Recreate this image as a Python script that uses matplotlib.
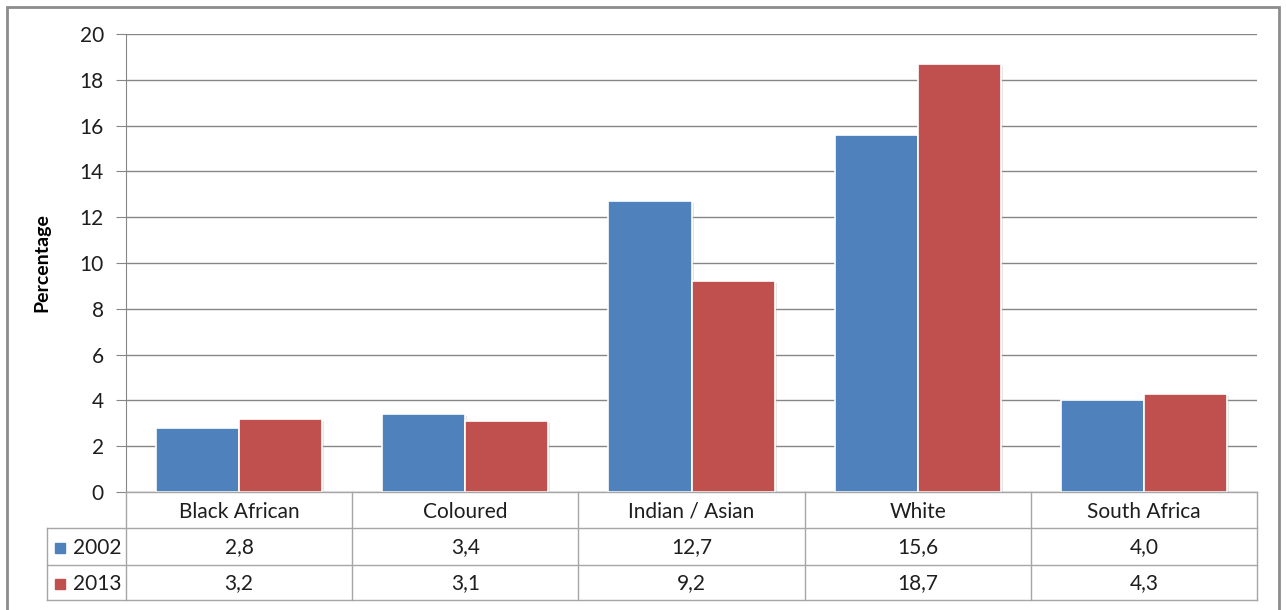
import matplotlib.pyplot as plt
import matplotlib.patheffects as pe
import numpy as np
from matplotlib.transforms import blended_transform_factory
from matplotlib.patches import Rectangle

plt.rcParams['font.family'] = ['Lato', 'DejaVu Sans']

# data
categories = ['Black African', 'Coloured', 'Indian / Asian', 'White', 'South Africa']
years = ['2002', '2013']
values_2002 = [2.8, 3.4, 12.7, 15.6, 4.0]
values_2013 = [3.2, 3.1, 9.2, 18.7, 4.3]
colors = ['#4F81BD', '#C0504D']

W, H = 1286, 610
fig = plt.figure(figsize=(W / 100, H / 100), dpi=100)

def fx(px):
    return px / W

def fy(py):
    # py measured from the top edge
    return 1 - py / H

ax_left, ax_right, ax_top, ax_bottom = 126, 1257, 34, 492
ax = fig.add_axes([fx(ax_left), fy(ax_bottom), fx(ax_right - ax_left), (ax_bottom - ax_top) / H])

grid_col = '#868686'
table_col = '#A6A6A6'
txt_col = '#1E1E1E'
fs = 15

x = np.arange(len(categories))
bw = 0.367
shadow = [pe.SimplePatchShadow(offset=(1.5, -1.5), shadow_rgbFace='#AAAAAA', alpha=0.3), pe.Normal()]
for vals, col, off in [(values_2002, colors[0], -bw / 2), (values_2013, colors[1], bw / 2)]:
    bars = ax.bar(x + off, vals, width=bw, color=col, edgecolor='white', linewidth=1.2, zorder=3)
    for b in bars:
        b.set_path_effects(shadow)

ax.set_xlim(-0.5, len(categories) - 0.5)
ax.set_ylim(0, 20)
ax.set_yticks(np.arange(0, 21, 2))
ax.yaxis.grid(True, color=grid_col, linewidth=1)
ax.set_axisbelow(True)
ax.set_xticks([])
for s in ['top', 'right', 'bottom']:
    ax.spines[s].set_visible(False)
ax.spines['left'].set_color(grid_col)
ax.tick_params(axis='y', length=7, color=grid_col, labelsize=fs, pad=9, labelcolor=txt_col)
ax.set_ylabel('Percentage', fontsize=14, fontweight='bold', labelpad=21, color='black')

# data table below the plot
tb = blended_transform_factory(ax.transData, fig.transFigure)
tf = fig.transFigure
rows = [492, 528, 565, 600]
legend_left = 47

def hline(x0, x1, py, trans):
    fig.add_artist(plt.Line2D([x0, x1], [fy(py), fy(py)], transform=trans, color=table_col, lw=1))

def vline(xx, py0, py1, trans):
    fig.add_artist(plt.Line2D([xx, xx], [fy(py0), fy(py1)], transform=trans, color=table_col, lw=1))

hline(fx(ax_left), fx(ax_right), rows[0], tf)
for py in rows[1:]:
    hline(fx(legend_left), fx(ax_right), py, tf)
for b in np.arange(-0.5, len(categories), 1.0):
    vline(b, rows[0], rows[-1], tb)
vline(fx(legend_left), rows[1], rows[-1], tf)

for i, c in enumerate(categories):
    fig.text(i, fy((rows[0] + rows[1]) / 2 + 2), c, transform=tb, ha='center', va='center',
             fontsize=fs, color=txt_col)
for r, (yr, vals, col) in enumerate(zip(years, [values_2002, values_2013], colors)):
    yc = fy((rows[r + 1] + rows[r + 2]) / 2 + 1)
    fig.add_artist(Rectangle((fx(55), yc - 5 / H), 10 / W, 10 / H, transform=tf, color=col))
    fig.text(fx(122), yc, yr, ha='right', va='center', fontsize=fs, color=txt_col)
    for i, v in enumerate(vals):
        fig.text(i, yc, f'{v:.1f}'.replace('.', ','), transform=tb, ha='center', va='center',
                 fontsize=fs, color=txt_col)

# outer frame
fig.add_artist(Rectangle((fx(7), fy(612)), fx(1279 - 7), (612 - 7) / H, transform=tf,
                         fill=False, edgecolor='#8C8C8C', lw=2))

fig.savefig('out.png', dpi=100)
